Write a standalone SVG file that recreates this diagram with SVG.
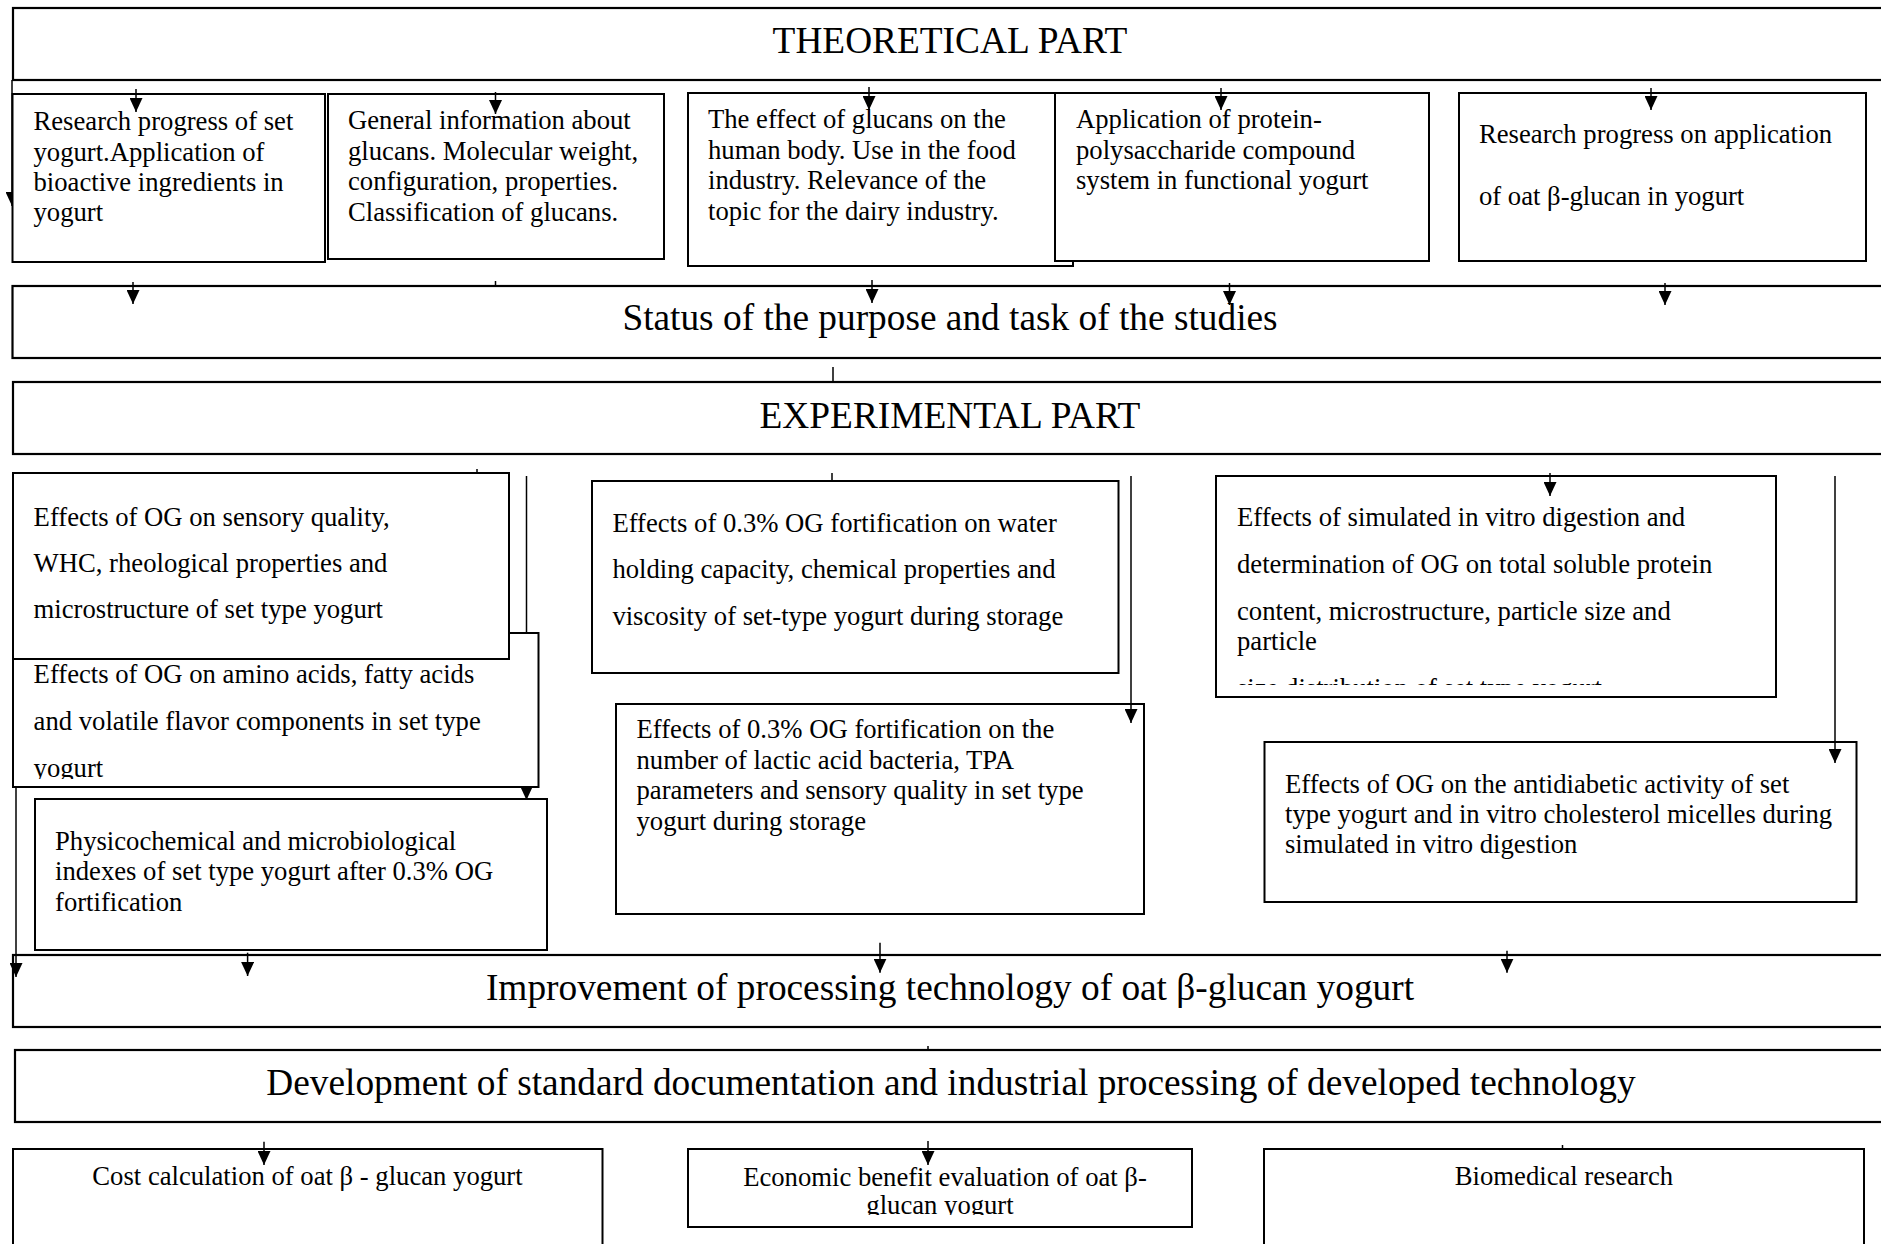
<svg xmlns="http://www.w3.org/2000/svg" width="1881" height="1244" viewBox="0 0 1881 1244">
<style>
.bar{fill:#fff;stroke:#000;stroke-width:2.2}
.box{fill:#fff;stroke:#000;stroke-width:2}
.t{font-family:"Liberation Serif","Times New Roman",serif;font-size:26.67px;fill:#000}
.m{text-anchor:middle}
.h{font-family:"Liberation Serif","Times New Roman",serif;font-size:37.33px;fill:#000;text-anchor:middle}
.c{fill:none;stroke:#000;stroke-width:1.5}
.a{marker-end:url(#arr)}
</style>
<defs>
<marker id="arr" markerUnits="userSpaceOnUse" viewBox="0 0 14 13" refX="14" refY="6.5" markerWidth="14" markerHeight="13" orient="auto">
<path d="M0,0 L14,6.5 L0,13 Z" fill="#000"/>
</marker>
<clipPath id="clipLeft"><rect x="0" y="0" width="12.3" height="1244"/><rect x="0" y="0" width="1881" height="93"/></clipPath>
<clipPath id="clipE2"><rect x="13" y="633" width="526" height="146"/></clipPath>
<clipPath id="clipE5"><rect x="1216" y="476" width="560" height="209"/></clipPath>
<clipPath id="clipB2"><rect x="688" y="1149" width="504" height="66"/></clipPath>
</defs>

<g id="theoretical">
<rect class="bar" x="13" y="8" width="1890" height="72"/>
<text class="h" x="950" y="53">THEORETICAL PART</text>
</g>

<g id="t1">
<rect class="box" x="12.5" y="94" width="312.5" height="168"/>
<text class="t" x="33.5" y="130">Research progress of set</text>
<text class="t" x="33.5" y="160.5">yogurt.Application of</text>
<text class="t" x="33.5" y="190.5">bioactive ingredients in</text>
<text class="t" x="33.5" y="220.5">yogurt</text>
</g>

<g id="t2">
<rect class="box" x="328" y="94" width="336" height="165"/>
<text class="t" x="348" y="129">General information about</text>
<text class="t" x="348" y="159.5">glucans. Molecular weight,</text>
<text class="t" x="348" y="190">configuration, properties.</text>
<text class="t" x="348" y="220.5">Classification of glucans.</text>
</g>

<g id="t3">
<rect class="box" x="688" y="93" width="385" height="173"/>
<text class="t" x="708" y="128">The effect of glucans on the</text>
<text class="t" x="708" y="158.5">human body. Use in the food</text>
<text class="t" x="708" y="189">industry. Relevance of the</text>
<text class="t" x="708" y="219.5">topic for the dairy industry.</text>
</g>

<g id="t4">
<rect class="box" x="1055" y="93" width="374" height="168"/>
<text class="t" x="1076" y="128">Application of protein-</text>
<text class="t" x="1076" y="158.5">polysaccharide compound</text>
<text class="t" x="1076" y="189">system in functional yogurt</text>
</g>

<g id="t5">
<rect class="box" x="1459" y="93" width="407" height="168"/>
<text class="t" x="1479" y="143">Research progress on application</text>
<text class="t" x="1479" y="205">of oat β-glucan in yogurt</text>
</g>

<g id="status">
<rect class="bar" x="12.5" y="286" width="1890" height="72"/>
<text class="h" x="950" y="330">Status of the purpose and task of the studies</text>
</g>

<g id="experimental">
<rect class="bar" x="13" y="382" width="1890" height="72"/>
<text class="h" x="950" y="428">EXPERIMENTAL PART</text>
</g>

<g id="e2">
<rect class="box" x="13" y="633" width="525.5" height="154"/>
<g clip-path="url(#clipE2)">
<text class="t" x="33.6" y="683">Effects of OG on amino acids, fatty acids</text>
<text class="t" x="33.6" y="730">and volatile flavor components in set type</text>
<text class="t" x="33.6" y="777">yogurt</text>
</g>
</g>

<g id="e1">
<rect class="box" x="13" y="473" width="496" height="186"/>
<text class="t" x="33.6" y="525.7">Effects of OG on sensory quality,</text>
<text class="t" x="33.6" y="571.7">WHC, rheological properties and</text>
<text class="t" x="33.6" y="618">microstructure of set type yogurt</text>
</g>

<g id="e3">
<rect class="box" x="35" y="799" width="512" height="151"/>
<text class="t" x="55" y="850">Physicochemical and microbiological</text>
<text class="t" x="55" y="880">indexes of set type yogurt after 0.3% OG</text>
<text class="t" x="55" y="910.5">fortification</text>
</g>

<g id="e4">
<rect class="box" x="592" y="481" width="526.5" height="192"/>
<text class="t" x="612.4" y="531.7">Effects of 0.3% OG fortification on water</text>
<text class="t" x="612.4" y="578">holding capacity, chemical properties and</text>
<text class="t" x="612.4" y="625">viscosity of set-type yogurt during storage</text>
</g>

<g id="e6">
<rect class="box" x="616" y="704" width="528" height="210"/>
<text class="t" x="636.5" y="738">Effects of 0.3% OG fortification on the</text>
<text class="t" x="636.5" y="768.6">number of lactic acid bacteria, TPA</text>
<text class="t" x="636.5" y="799.2">parameters and sensory quality in set type</text>
<text class="t" x="636.5" y="829.8">yogurt during storage</text>
</g>

<g id="e5">
<rect class="box" x="1216" y="476" width="560" height="221"/>
<g clip-path="url(#clipE5)">
<text class="t" x="1237" y="526">Effects of simulated in vitro digestion and</text>
<text class="t" x="1237" y="572.7">determination of OG on total soluble protein</text>
<text class="t" x="1237" y="620">content, microstructure, particle size and</text>
<text class="t" x="1237" y="650">particle</text>
<text class="t" x="1237" y="697">size distribution of set type yogurt</text>
</g>
</g>

<g id="e7">
<rect class="box" x="1264.5" y="742" width="592" height="160"/>
<text class="t" x="1285" y="793">Effects of OG on the antidiabetic activity of set</text>
<text class="t" x="1285" y="823">type yogurt and in vitro cholesterol micelles during</text>
<text class="t" x="1285" y="853">simulated in vitro digestion</text>
</g>

<g id="improvement">
<rect class="bar" x="13" y="955" width="1890" height="72"/>
<text class="h" x="950" y="1000">Improvement of processing technology of oat β-glucan yogurt</text>
</g>

<g id="development">
<rect class="bar" x="15" y="1050" width="1890" height="72"/>
<text class="h" x="951" y="1095">Development of standard documentation and industrial processing of developed technology</text>
</g>

<g id="b1">
<rect class="box" x="13" y="1149" width="589.5" height="120"/>
<text class="t m" x="307.5" y="1185">Cost calculation of oat β - glucan yogurt</text>
</g>

<g id="b2">
<rect class="box" x="688" y="1149" width="504" height="78"/>
<g clip-path="url(#clipB2)">
<text class="t m" x="945" y="1186">Economic benefit evaluation of oat β-</text>
<text class="t m" x="940" y="1214">glucan yogurt</text>
</g>
</g>

<g id="b3">
<rect class="box" x="1264" y="1149" width="600" height="120"/>
<text class="t m" x="1564" y="1185">Biomedical research</text>
</g>

<g id="connectors">
<path class="c a" d="M12,80 V206" clip-path="url(#clipLeft)"/>
<path class="c a" d="M136,89 V112"/>
<path class="c a" d="M495.5,92 V114"/>
<path class="c a" d="M869,87 V110"/>
<path class="c a" d="M1221,88 V110"/>
<path class="c a" d="M1651,88 V110"/>
<path class="c a" d="M133,282 V304"/>
<path class="c" d="M495.5,281 V286"/>
<path class="c a" d="M872,280 V303"/>
<path class="c a" d="M1229.5,283 V305"/>
<path class="c a" d="M1665,283 V305"/>
<path class="c" d="M833,367 V382"/>
<path class="c" d="M832,473 V481"/>
<path class="c" d="M477,469 V473"/>
<path class="c" d="M526.5,476 V633"/>
<path class="c a" d="M526.5,787 V800"/>
<path class="c a" d="M1131,476 V723"/>
<path class="c a" d="M1550,473 V496"/>
<path class="c a" d="M1835,476 V763"/>
<path class="c a" d="M16,787 V977"/>
<path class="c a" d="M247.6,952.7 V976"/>
<path class="c a" d="M880,942.7 V972.7"/>
<path class="c a" d="M1507,950.7 V972.7"/>
<path class="c" d="M928,1046 V1050"/>
<path class="c a" d="M264,1141.7 V1165"/>
<path class="c a" d="M928,1141 V1165"/>
<path class="c" d="M1562.5,1145 V1149"/>
</g>
</svg>
